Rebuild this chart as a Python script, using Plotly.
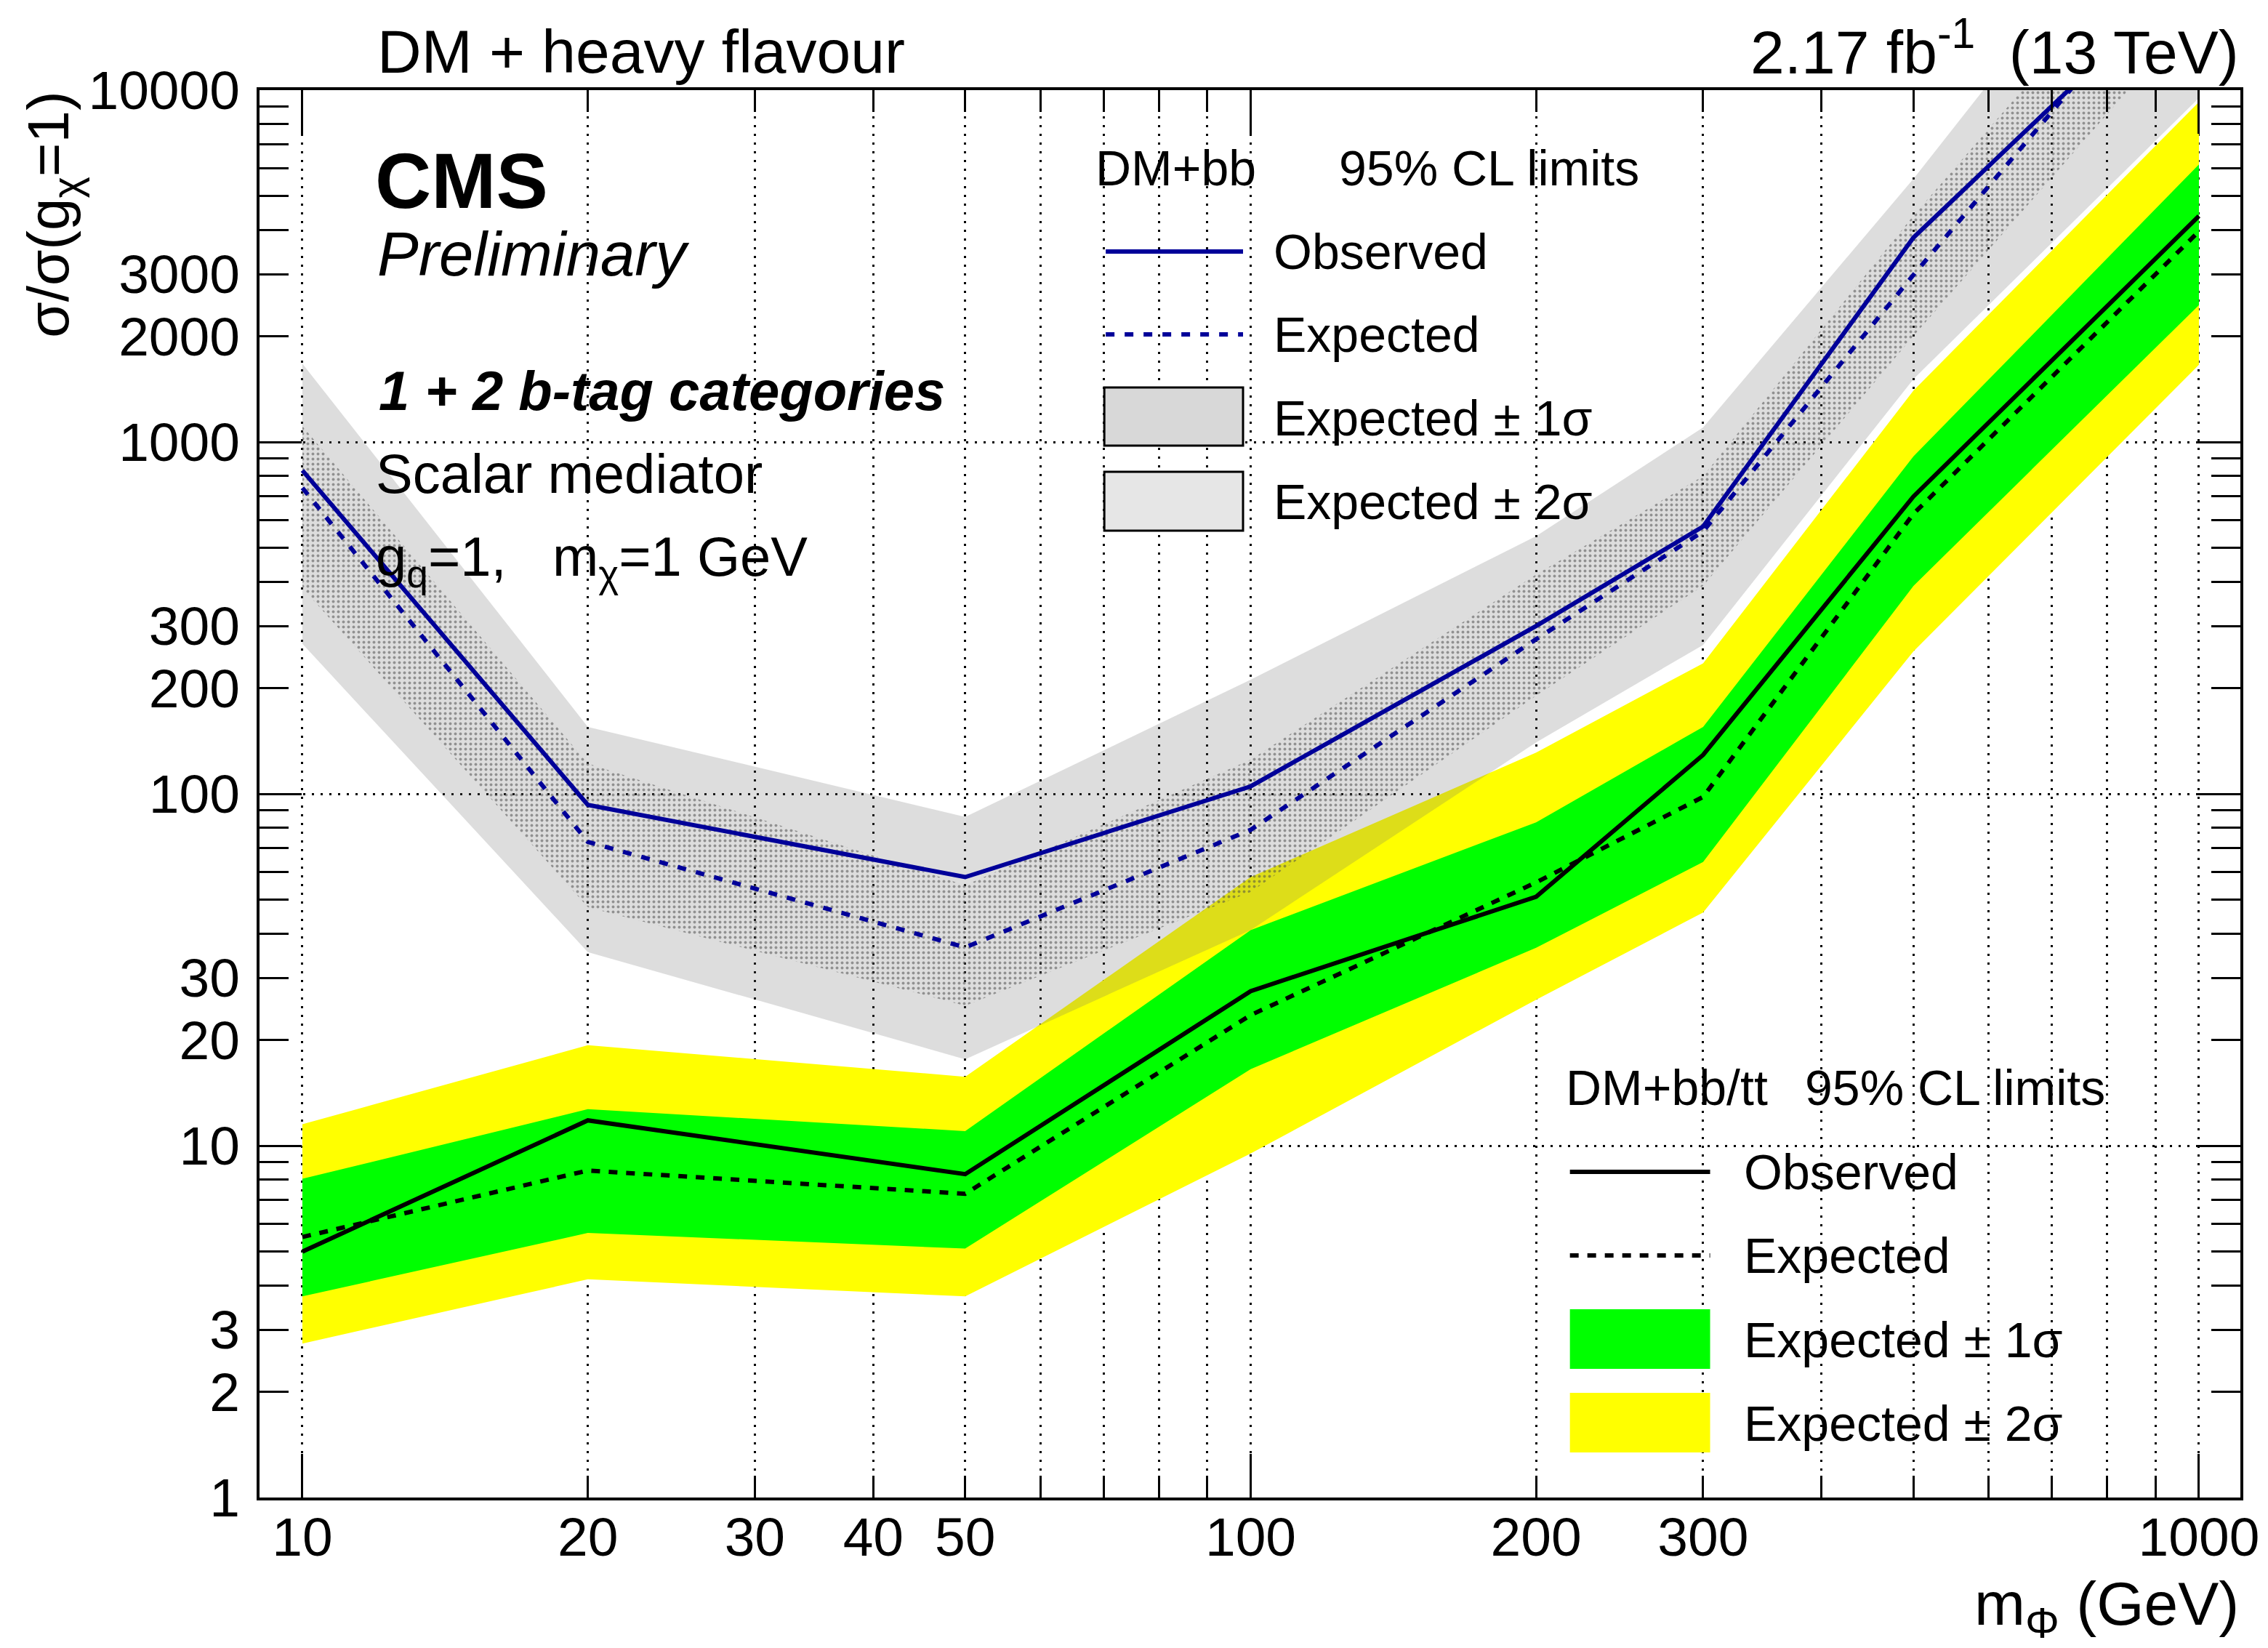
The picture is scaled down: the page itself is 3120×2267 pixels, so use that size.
import math
import plotly.graph_objects as go

# ---------------- data ----------------
mass = [10, 20, 50, 100, 200, 300, 500, 1000]

# DM+bb (1+2 b-tag categories)
bb_obs = [830, 93, 58, 105, 300, 575, 3810, 22500]
bb_exp = [741, 73, 36.6, 79, 275, 557, 2985, 27000]
bb_exp_p1 = [1110, 122, 55, 125, 420, 800, 4400, 38000]
bb_exp_m1 = [385, 47.6, 25, 52.6, 190, 390, 2000, 17000]
bb_exp_p2 = [1670, 155, 86, 211, 540, 1100, 5600, 60000]
bb_exp_m2 = [267, 35.5, 17.6, 41, 140, 265, 1510, 9500]

# DM+bb/tt combination
tt_obs = [5.0, 11.8, 8.3, 27.5, 51, 129, 700, 4390]
tt_exp = [5.5, 8.5, 7.3, 23.5, 56, 98, 625, 3970]
tt_exp_p1 = [8.05, 12.7, 11.0, 41, 83, 155, 910, 6150]
tt_exp_m1 = [3.73, 5.65, 5.1, 16.5, 36.5, 64, 390, 2450]
tt_exp_p2 = [11.5, 19.3, 15.7, 58, 131, 235, 1400, 9260]
tt_exp_m2 = [2.74, 4.17, 3.73, 9.5, 26, 46, 254, 1657]

x_tick_vals = [10, 20, 30, 40, 50, 100, 200, 300, 1000]
x_tick_text = ["10", "20", "30", "40", "50", "100", "200", "300", "1000"]
x_minor_vals = [60, 70, 80, 90, 400, 500, 600, 700, 800, 900]
x_decades = [10, 100, 1000]

y_tick_vals = [1, 2, 3, 10, 20, 30, 100, 200, 300, 1000, 2000, 3000, 10000]
y_tick_text = ["1", "2", "3", "10", "20", "30", "100", "200", "300",
               "1000", "2000", "3000", "10000"]
y_minor_vals = [4, 5, 6, 7, 8, 9, 40, 50, 60, 70, 80, 90,
                400, 500, 600, 700, 800, 900, 4000, 5000, 6000, 7000, 8000, 9000]
y_decades = [1, 10, 100, 1000, 10000]

# ---------------- layout geometry (pixels) ----------------
W, H = 3120, 2267
L, R, T, B = 357, 3084, 124, 2060
FONT = "Liberation Sans, Arial, Helvetica, sans-serif"
NAVY = "rgb(0,0,153)"


def px(X):
    return (X - L) / (R - L)


def py(Y):
    return (B - Y) / (B - T)


def band(up, down):
    return mass + mass[::-1], up + down[::-1]


fig = go.Figure()

bx, by = band(tt_exp_p2, tt_exp_m2)
fig.add_trace(go.Scatter(x=bx, y=by, fill="toself", fillcolor="#ffff00",
                         line=dict(width=0), mode="lines", hoverinfo="skip"))
bx, by = band(tt_exp_p1, tt_exp_m1)
fig.add_trace(go.Scatter(x=bx, y=by, fill="toself", fillcolor="#00ff00",
                         line=dict(width=0), mode="lines", hoverinfo="skip"))
bx, by = band(bb_exp_p2, bb_exp_m2)
fig.add_trace(go.Scatter(x=bx, y=by, fill="toself",
                         fillcolor="rgba(110,110,110,0.23)",
                         line=dict(width=0), mode="lines", hoverinfo="skip"))
bx, by = band(bb_exp_p1, bb_exp_m1)
fig.add_trace(go.Scatter(x=bx, y=by, fill="toself", fillcolor="rgba(0,0,0,0)",
                         fillpattern=dict(shape=".", fgcolor="rgb(70,70,70)",
                                          bgcolor="rgba(0,0,0,0)", size=7,
                                          solidity=0.25),
                         line=dict(width=0), mode="lines", hoverinfo="skip"))

fig.add_trace(go.Scatter(x=mass, y=tt_exp, mode="lines",
                         line=dict(color="black", width=6, dash="12px,12px")))
fig.add_trace(go.Scatter(x=mass, y=tt_obs, mode="lines",
                         line=dict(color="black", width=6)))
fig.add_trace(go.Scatter(x=mass, y=bb_exp, mode="lines",
                         line=dict(color=NAVY, width=6, dash="12px,14px")))
fig.add_trace(go.Scatter(x=mass, y=bb_obs, mode="lines",
                         line=dict(color=NAVY, width=6)))

# dummy trace so the overlay axes (long decade ticks) get drawn
fig.add_trace(go.Scatter(x=[100], y=[100], xaxis="x2", yaxis="y2", mode="markers",
                         marker=dict(opacity=0), hoverinfo="skip"))

xrange = [0.9548, 3.0437]
yrange = [0, 4]
tickfont = dict(family=FONT, size=75, color="black")

fig.update_layout(
    width=W, height=H,
    margin=dict(l=L, r=W - R, t=T, b=H - B, pad=0),
    paper_bgcolor="white", plot_bgcolor="white",
    showlegend=False,
    xaxis=dict(type="log", range=xrange, tickmode="array", tickvals=x_tick_vals,
               ticktext=x_tick_text, ticks="inside", ticklen=30, tickwidth=3,
               tickcolor="black", mirror="allticks", showline=True, linewidth=4,
               linecolor="black", showgrid=True, gridcolor="black", gridwidth=3,
               griddash="3px,9px", zeroline=False, tickfont=tickfont,
               ticklabelstandoff=-14,
               minor=dict(tickmode="array", tickvals=x_minor_vals, ticks="inside",
                          ticklen=30, tickwidth=3, tickcolor="black", showgrid=True,
                          gridcolor="black", gridwidth=3, griddash="3px,9px")),
    yaxis=dict(type="log", range=yrange, tickmode="array", tickvals=y_tick_vals,
               ticktext=y_tick_text, ticks="inside", ticklen=40, tickwidth=3,
               tickcolor="black", mirror="allticks", showline=True, linewidth=4,
               linecolor="black", showgrid=False, zeroline=False, tickfont=tickfont,
               ticklabelstandoff=8,
               minor=dict(tickmode="array", tickvals=y_minor_vals, ticks="inside",
                          ticklen=40, tickwidth=3, tickcolor="black", showgrid=False)),
    xaxis2=dict(type="log", range=xrange, overlaying="x", anchor="y2", side="bottom",
                tickmode="array", tickvals=x_decades, ticks="inside", ticklen=60,
                tickwidth=3, tickcolor="black", mirror="allticks", showline=False,
                showgrid=False, showticklabels=False, zeroline=False),
    yaxis2=dict(type="log", range=yrange, overlaying="y", anchor="x2", side="left",
                tickmode="array", tickvals=y_decades, ticks="inside", ticklen=58,
                tickwidth=3, tickcolor="black", mirror="allticks", showline=False,
                showgrid=True, gridcolor="black", gridwidth=3, griddash="3px,9px",
                showticklabels=False, zeroline=False),
)

ann = []


def text(s, X, Y, size, xanchor="left", yanchor="middle", angle=0):
    ann.append(dict(text=s, x=px(X), y=py(Y), xref="paper", yref="paper",
                    xanchor=xanchor, yanchor=yanchor, showarrow=False,
                    textangle=angle, font=dict(family=FONT, size=size, color="black")))


text("DM + heavy flavour", 517, 71, 84)
text("2.17 fb<sup>-1</sup>  (13 TeV)", 3084, 66, 84, xanchor="right")
text("<b>CMS</b>", 514, 249, 107)
text("<i>Preliminary</i>", 517, 349, 85)
text("<b><i>1 + 2 b-tag categories</i></b>", 519, 537, 76)
text("Scalar mediator", 515, 651, 76)
text("g<sub>q</sub>=1,   m<sub>χ</sub>=1 GeV", 515, 771, 76)

# legend 1 (DM+bb)
text("DM+bb", 1506, 231, 68)
text("95% CL limits", 1841, 231, 68)
text("Observed", 1751, 346, 68)
text("Expected", 1751, 460, 68)
text("Expected ± 1σ", 1751, 575, 68)
text("Expected ± 2σ", 1751, 690, 68)
# legend 2 (DM+bb/tt)
text("DM+bb/tt", 2153, 1496, 68)
text("95% CL limits", 2483, 1496, 68)
text("Observed", 2398, 1612, 68)
text("Expected", 2398, 1727, 68)
text("Expected ± 1σ", 2398, 1843, 68)
text("Expected ± 2σ", 2398, 1958, 68)

# axis titles
text("σ/σ(g<sub>χ</sub>=1)", 72, 124, 80, xanchor="center", yanchor="top", angle=-90)
text("m<sub>Φ</sub> (GeV)", 3084, 2212, 84, xanchor="right")

fig.update_layout(annotations=ann)

shapes = []


def hline(X0, X1, Y, color, dash="solid"):
    shapes.append(dict(type="line", xref="paper", yref="paper", x0=px(X0), x1=px(X1),
                       y0=py(Y), y1=py(Y), line=dict(color=color, width=6, dash=dash)))


def box(X0, X1, Y0, Y1, fill, border):
    shapes.append(dict(type="rect", xref="paper", yref="paper", x0=px(X0), x1=px(X1),
                       y0=py(Y1), y1=py(Y0), fillcolor=fill,
                       line=dict(color="black", width=3 if border else 0)))


hline(1522, 1711, 346, NAVY)
hline(1522, 1711, 460, NAVY, "12px,14px")
box(1520, 1711, 533, 613, "rgb(216,216,216)", True)
box(1520, 1711, 649, 730, "rgb(230,230,230)", True)
hline(2161, 2354, 1612, "black")
hline(2161, 2354, 1727, "black", "12px,12px")
box(2161, 2354, 1801, 1883, "#00ff00", False)
box(2161, 2354, 1916, 1998, "#ffff00", False)

fig.update_layout(shapes=shapes)

fig.write_html("out.html")
